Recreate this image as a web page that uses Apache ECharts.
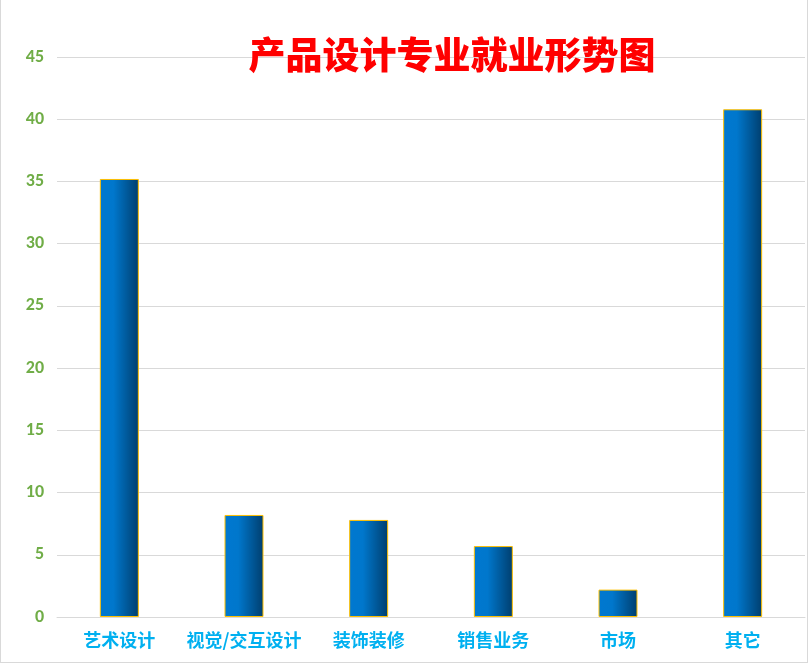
<!DOCTYPE html>
<html><head><meta charset="utf-8">
<script src="https://cdn.jsdelivr.net/npm/echarts@6/dist/echarts.min.js"></script>
<style>
html,body{margin:0;padding:0;background:#fff;}
#c{width:808px;height:663px;border:1px solid #d9d9d9;box-sizing:border-box;border-top:none;}
</style></head>
<body><div id="c"></div>
<script>
const categories = ['艺术设计','视觉/交互设计','装饰装修','销售业务','市场','其它'];
const values = [35.2, 8.2, 7.8, 5.7, 2.2, 40.8];
const yTicks = {min:0, max:45, interval:5};
const titleText = '产品设计专业就业形势图';

const chart = echarts.init(document.getElementById('c'));
chart.setOption({
  animation:false,
  title:{text:titleText, left:446, top:31, textAlign:'center',
    textStyle:{color:'#FF0000', fontSize:37, fontWeight:900, fontFamily:'Noto Sans CJK SC'}},
  grid:{left:56, right:2, top:57, bottom:45, containLabel:false},
  xAxis:{type:'category', data:categories,
    axisLine:{lineStyle:{color:'#d9d9d9', width:1}},
    axisTick:{show:false},
    axisLabel:{interval:0, color:'#00B0F0', fontSize:18, fontWeight:'bold', margin:14, fontFamily:'Noto Sans CJK SC'}},
  yAxis:{type:'value', min:yTicks.min, max:yTicks.max, interval:yTicks.interval,
    axisLine:{show:false}, axisTick:{show:false},
    splitLine:{lineStyle:{color:'#d9d9d9', width:1}},
    axisLabel:{color:'#70AD47', fontSize:18, fontWeight:'bold', margin:13, fontFamily:'Carlito, Liberation Sans, sans-serif'}},
  series:[{type:'bar', data:values, barWidth:39,
    itemStyle:{borderColor:'#FFC000', borderWidth:1,
      color:new echarts.graphic.LinearGradient(0,0,1,0,[
        {offset:0,color:'#0078D0'},{offset:0.35,color:'#0077CC'},{offset:1,color:'#003E6E'}])}}]
});
</script></body></html>
